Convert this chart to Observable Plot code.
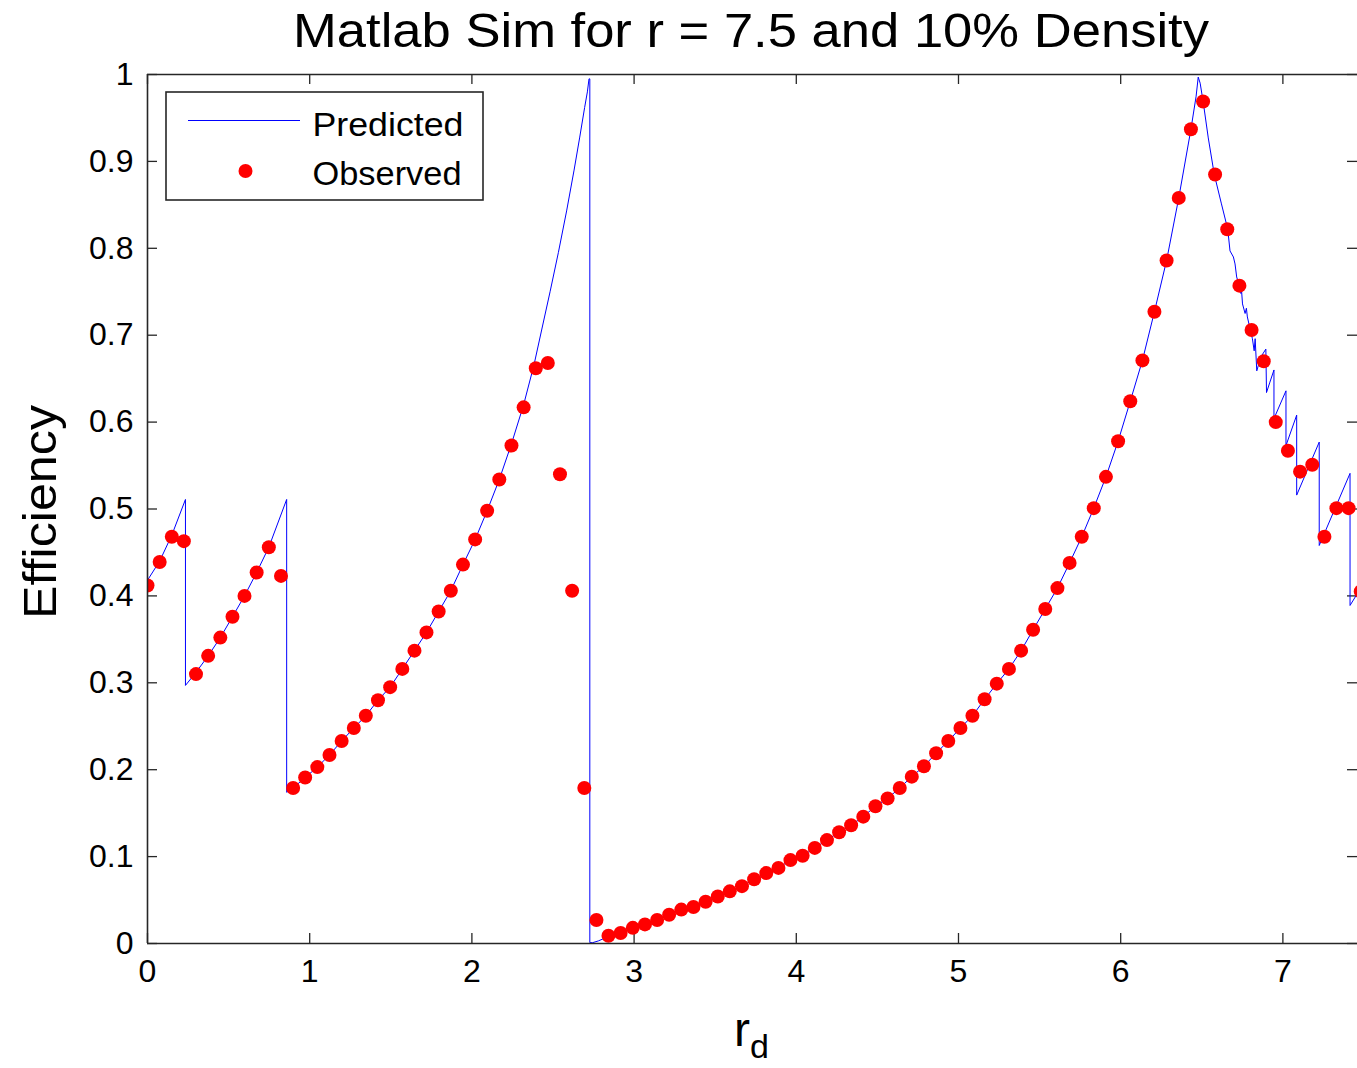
<!DOCTYPE html>
<html>
<head>
<meta charset="utf-8">
<script src="https://cdn.jsdelivr.net/npm/d3@7"></script>
<script src="https://cdn.jsdelivr.net/npm/@observablehq/plot@0.6"></script>
<style>
html, body { margin: 0; padding: 0; background: #fff; overflow: hidden; }
#chart svg { display: block; }
</style>
</head>
<body>
<div id="chart"></div>
<script>
// ---------- data ----------
const titleText = "Matlab Sim for r = 7.5 and 10% Density";
const yLabelText = "Efficiency";
const xLabelMain = "r";
const xLabelSub = "d";
const seriesNames = ["Predicted", "Observed"];

const xTicks = [0, 1, 2, 3, 4, 5, 6, 7];
const xTickLabels = ["0", "1", "2", "3", "4", "5", "6", "7"];
const yTicks = [0, 0.1, 0.2, 0.3, 0.4, 0.5, 0.6, 0.7, 0.8, 0.9, 1];
const yTickLabels = ["0", "0.1", "0.2", "0.3", "0.4", "0.5", "0.6", "0.7", "0.8", "0.9", "1"];

const observedX = [
  0, 0.075, 0.150, 0.224, 0.299, 0.374, 0.449, 0.524, 0.598, 0.673,
  0.748, 0.823, 0.898, 0.972, 1.047, 1.122, 1.197, 1.272, 1.346, 1.421,
  1.496, 1.571, 1.646, 1.720, 1.795, 1.870, 1.945, 2.020, 2.094, 2.169,
  2.244, 2.319, 2.394, 2.468, 2.543, 2.618, 2.693, 2.768, 2.842, 2.917,
  2.992, 3.067, 3.142, 3.216, 3.291, 3.366, 3.441, 3.516, 3.590, 3.665,
  3.740, 3.815, 3.890, 3.964, 4.039, 4.114, 4.189, 4.264, 4.338, 4.413,
  4.488, 4.563, 4.638, 4.712, 4.787, 4.862, 4.937, 5.012, 5.086, 5.161,
  5.236, 5.311, 5.386, 5.460, 5.535, 5.610, 5.685, 5.760, 5.834, 5.909,
  5.984, 6.059, 6.134, 6.208, 6.283, 6.358, 6.433, 6.508, 6.582, 6.657,
  6.732, 6.807, 6.882, 6.956, 7.031, 7.106, 7.181, 7.256, 7.330, 7.405,
  7.480
];
const observedY = [
  0.412, 0.439, 0.468, 0.463, 0.310, 0.331, 0.352, 0.376, 0.400, 0.427,
  0.456, 0.423, 0.179, 0.191, 0.203, 0.217, 0.233, 0.248, 0.262, 0.280,
  0.295, 0.316, 0.337, 0.358, 0.382, 0.406, 0.436, 0.465, 0.498, 0.534,
  0.573, 0.617, 0.662, 0.668, 0.540, 0.406, 0.179, 0.027, 0.009, 0.012,
  0.018, 0.022, 0.027, 0.033, 0.039, 0.042, 0.048, 0.054, 0.060, 0.066,
  0.074, 0.081, 0.087, 0.096, 0.101, 0.110, 0.119, 0.128, 0.136, 0.146,
  0.158, 0.167, 0.179, 0.192, 0.204, 0.219, 0.233, 0.248, 0.262, 0.281,
  0.299, 0.316, 0.337, 0.361, 0.385, 0.409, 0.438, 0.468, 0.501, 0.537,
  0.578, 0.624, 0.671, 0.727, 0.786, 0.858, 0.937, 0.969, 0.885, 0.822,
  0.757, 0.706, 0.670, 0.600, 0.567, 0.543, 0.551, 0.468, 0.501, 0.501,
  0.405
];

const predictedX = [
  0, 0.075, 0.150, 0.234, 0.234,
  0.299, 0.374, 0.449, 0.524, 0.598, 0.673, 0.748, 0.858, 0.858,
  0.898, 0.972, 1.047, 1.122, 1.197, 1.272, 1.346, 1.421, 1.496, 1.571,
  1.646, 1.720, 1.795, 1.870, 1.945, 2.020, 2.094, 2.169, 2.244, 2.319,
  2.383, 2.430, 2.482, 2.533, 2.584, 2.630, 2.665, 2.695, 2.712, 2.722, 2.727, 2.727,
  2.745, 2.780, 2.842, 2.917, 2.992, 3.067, 3.142, 3.216, 3.291, 3.366,
  3.441, 3.516, 3.590, 3.665, 3.740, 3.815, 3.890, 3.964, 4.039, 4.114,
  4.189, 4.264, 4.338, 4.413, 4.488, 4.563, 4.638, 4.712, 4.787, 4.862,
  4.937, 5.012, 5.086, 5.161, 5.236, 5.311, 5.386, 5.460, 5.535, 5.610,
  5.685, 5.760, 5.834, 5.909, 5.984, 6.059, 6.134, 6.208, 6.283, 6.358,
  6.433, 6.465, 6.478, 6.490, 6.509, 6.540, 6.577, 6.620, 6.660, 6.674,
  6.695, 6.705, 6.715, 6.735, 6.741, 6.745, 6.751, 6.767, 6.775, 6.781,
  6.798, 6.812, 6.823, 6.829, 6.839, 6.864, 6.895, 6.899, 6.920, 6.945,
  6.945, 7.019, 7.019, 7.085, 7.085, 7.224, 7.224, 7.414, 7.414, 7.460
];
const predictedY = [
  0.418, 0.440, 0.470, 0.511, 0.297,
  0.312, 0.331, 0.352, 0.376, 0.400, 0.427, 0.456, 0.511, 0.174,
  0.179, 0.191, 0.203, 0.217, 0.233, 0.248, 0.262, 0.280, 0.295, 0.316,
  0.337, 0.358, 0.382, 0.406, 0.436, 0.465, 0.498, 0.534, 0.575, 0.620,
  0.666, 0.706, 0.750, 0.795, 0.843, 0.890, 0.928, 0.962, 0.980, 0.995, 0.995, 0.001,
  0.001, 0.003, 0.008, 0.012, 0.018, 0.022, 0.027, 0.033, 0.039, 0.042,
  0.048, 0.054, 0.060, 0.066, 0.074, 0.081, 0.087, 0.096, 0.101, 0.110,
  0.119, 0.128, 0.136, 0.146, 0.158, 0.167, 0.179, 0.192, 0.204, 0.219,
  0.233, 0.248, 0.262, 0.281, 0.299, 0.316, 0.337, 0.361, 0.385, 0.409,
  0.438, 0.468, 0.501, 0.537, 0.578, 0.624, 0.671, 0.727, 0.786, 0.858,
  0.937, 0.975, 0.997, 0.990, 0.968, 0.927, 0.885, 0.852, 0.822, 0.797,
  0.790, 0.782, 0.767, 0.755, 0.748, 0.752, 0.736, 0.725, 0.731, 0.721,
  0.707, 0.696, 0.682, 0.696, 0.659, 0.675, 0.684, 0.634, 0.646, 0.660,
  0.604, 0.636, 0.573, 0.608, 0.516, 0.577, 0.458, 0.541, 0.389, 0.403
];

// ---------- build ----------
const observed = observedX.map((x, i) => ({x, y: observedY[i]}));
const predicted = predictedX.map((x, i) => ({x, y: predictedY[i]}));

const W = 1357, H = 1068;
const mT = 74, mL = 147, mR = 0, mB = 125;
const frameW = W - mL - mR, frameH = H - mT - mB;
const tickLen = 10;
const FONT = "'Liberation Sans', Arial, Helvetica, sans-serif";
const AX = "#262626";

const chart = Plot.plot({
  width: W, height: H,
  marginTop: mT, marginLeft: mL, marginRight: mR, marginBottom: mB,
  style: {fontFamily: FONT, background: "white", color: "black", overflow: "hidden"},
  x: {domain: [0, 7.46]},
  y: {domain: [0, 1]},
  marks: [
    // inward ticks on all four sides
    Plot.tickX(xTicks, {x: d => d, insetTop: frameH - tickLen, stroke: AX, strokeWidth: 1.3}),
    Plot.tickX(xTicks, {x: d => d, insetBottom: frameH - tickLen, stroke: AX, strokeWidth: 1.3}),
    Plot.tickY(yTicks, {y: d => d, insetRight: frameW - tickLen, stroke: AX, strokeWidth: 1.3}),
    Plot.tickY(yTicks, {y: d => d, insetLeft: frameW - tickLen, stroke: AX, strokeWidth: 1.3}),
    // data
    Plot.line(predicted, {x: "x", y: "y", stroke: "#0000ff", strokeWidth: 1, clip: true}),
    Plot.dot(observed, {x: "x", y: "y", r: 7, fill: "#ff0000", stroke: "none", clip: true}),
    // box lines (left, bottom, top)
    Plot.ruleY([0, 1], {stroke: AX, strokeWidth: 1.6}),
    Plot.ruleX([0], {stroke: AX, strokeWidth: 1.6}),
    // tick labels
    Plot.axisX({ticks: xTicks, tickSize: 0, tickPadding: 16, fontSize: 32, label: null,
      tickFormat: d => xTickLabels[xTicks.indexOf(d)]}),
    Plot.axisY({ticks: yTicks, tickSize: 0, tickPadding: 14, fontSize: 32, label: null,
      tickFormat: d => yTickLabels[yTicks.indexOf(d)]})
  ]
});

const svg = d3.select(chart);
svg.attr("font-family", FONT);

// title
svg.append("text")
  .attr("x", 751).attr("y", 47)
  .attr("text-anchor", "middle")
  .attr("font-size", 49)
  .attr("textLength", 916).attr("lengthAdjust", "spacingAndGlyphs")
  .attr("fill", "black")
  .text(titleText);

// y label
svg.append("text")
  .attr("transform", "translate(56,512) rotate(-90)")
  .attr("text-anchor", "middle")
  .attr("font-size", 46)
  .attr("textLength", 214).attr("lengthAdjust", "spacingAndGlyphs")
  .attr("fill", "black")
  .text(yLabelText);

// x label with subscript
const xl = svg.append("text")
  .attr("x", 734).attr("y", 1046)
  .attr("text-anchor", "start")
  .attr("font-size", 48)
  .attr("fill", "black");
xl.append("tspan").text(xLabelMain);
xl.append("tspan").attr("dy", 12).attr("font-size", 34).text(xLabelSub);

// legend
const lg = svg.append("g").attr("text-anchor", "start");
lg.append("rect")
  .attr("x", 166).attr("y", 92).attr("width", 317).attr("height", 108)
  .attr("fill", "white").attr("stroke", AX).attr("stroke-width", 1.6);
lg.append("line")
  .attr("x1", 188).attr("x2", 300).attr("y1", 120.5).attr("y2", 120.5)
  .attr("stroke", "#0000ff").attr("stroke-width", 1);
lg.append("circle")
  .attr("cx", 245.5).attr("cy", 171).attr("r", 7).attr("fill", "#ff0000");
lg.append("text")
  .attr("x", 312.5).attr("y", 136).attr("font-size", 34)
  .attr("text-anchor", "start")
  .attr("textLength", 151).attr("lengthAdjust", "spacingAndGlyphs")
  .attr("fill", "black").text(seriesNames[0]);
lg.append("text")
  .attr("x", 312.5).attr("y", 185).attr("font-size", 34)
  .attr("text-anchor", "start")
  .attr("textLength", 149).attr("lengthAdjust", "spacingAndGlyphs")
  .attr("fill", "black").text(seriesNames[1]);

document.getElementById("chart").appendChild(chart);
</script>
</body>
</html>
